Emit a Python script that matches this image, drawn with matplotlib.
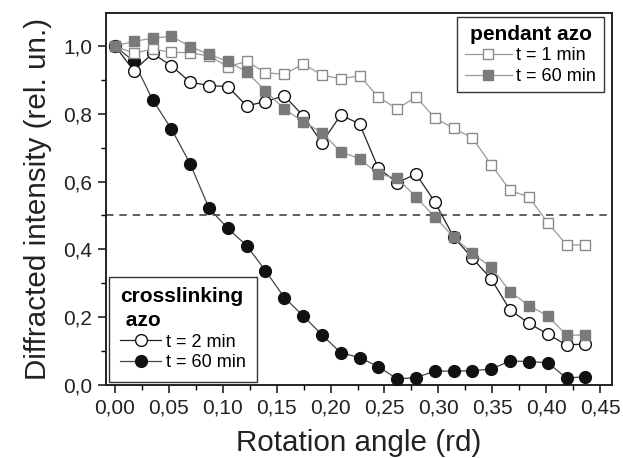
import matplotlib
matplotlib.use("Agg")
import matplotlib.pyplot as plt
from matplotlib.ticker import MultipleLocator, FuncFormatter

plt.rcParams['font.family'] = ['Liberation Sans', 'DejaVu Sans']

# rotation angle (rad), 1 degree steps
angle = [0.0000, 0.0175, 0.0349, 0.0524, 0.0698, 0.0873, 0.1047, 0.1222, 0.1396,
         0.1571, 0.1745, 0.1920, 0.2094, 0.2269, 0.2443, 0.2618, 0.2793, 0.2967,
         0.3142, 0.3316, 0.3491, 0.3665, 0.3840, 0.4014, 0.4189, 0.4363]

cross_2min = [1.000, 0.927, 0.978, 0.941, 0.893, 0.883, 0.880, 0.823, 0.836, 0.853,
              0.794, 0.715, 0.796, 0.770, 0.639, 0.597, 0.622, 0.540, 0.436, 0.374,
              0.312, 0.221, 0.182, 0.150, 0.118, 0.121]
cross_60min = [1.000, 0.954, 0.841, 0.755, 0.652, 0.521, 0.462, 0.411, 0.337, 0.258,
               0.204, 0.148, 0.095, 0.081, 0.054, 0.018, 0.022, 0.041, 0.041, 0.042,
               0.047, 0.071, 0.069, 0.066, 0.020, 0.025]
pend_1min = [1.000, 0.978, 0.991, 0.981, 0.980, 0.970, 0.939, 0.954, 0.921, 0.916,
             0.947, 0.914, 0.903, 0.912, 0.849, 0.814, 0.850, 0.787, 0.757, 0.728,
             0.649, 0.574, 0.554, 0.479, 0.413, 0.413]
pend_60min = [1.000, 1.013, 1.023, 1.028, 0.998, 0.975, 0.954, 0.924, 0.867, 0.814,
              0.777, 0.744, 0.688, 0.667, 0.622, 0.610, 0.554, 0.495, 0.436, 0.388,
              0.347, 0.275, 0.234, 0.204, 0.147, 0.147]

threshold = 0.5

fig = plt.figure(figsize=(6.23, 4.58), dpi=100)
ax = fig.add_axes([106/623, 1-385/458, (612-106)/623, (385-13)/458])

ax.axhline(threshold, color='#444444', lw=1.2, ls=(0, (4.5, 3.5)), zorder=1)

l_c60, = ax.plot(angle, cross_60min, '-o', color='#444444', lw=0.9, ms=8.5,
                 mfc='#111111', mec='#111111', zorder=3)
l_c2, = ax.plot(angle, cross_2min, '-o', color='#222222', lw=0.9, ms=8.5,
                mfc='white', mec='#111111', mew=1.0, zorder=4)
l_p1, = ax.plot(angle, pend_1min, '-s', color='#999999', lw=0.9, ms=7.3,
                mfc='white', mec='#8a8a8a', mew=1.0, zorder=5)
l_p60, = ax.plot(angle, pend_60min, '-s', color='#999999', lw=0.9, ms=7.3,
                 mfc='#7a7a7a', mec='#7a7a7a', zorder=6)

ax.set_xlim(-0.0083, 0.4610)
ax.set_ylim(0.0, 1.097)
ax.xaxis.set_major_locator(MultipleLocator(0.05))
ax.xaxis.set_minor_locator(MultipleLocator(0.025))
ax.yaxis.set_major_locator(MultipleLocator(0.2))
ax.yaxis.set_minor_locator(MultipleLocator(0.1))
ax.xaxis.set_major_formatter(FuncFormatter(lambda v, p: f"{v:.2f}".replace('.', ',')))
ax.yaxis.set_major_formatter(FuncFormatter(lambda v, p: f"{v:.1f}".replace('.', ',')))
ax.tick_params(which='major', direction='out', length=5.8, width=1.2, labelsize=15,
               colors='#222222', top=False, right=False, pad=4)
ax.tick_params(which='minor', direction='out', length=3.6, width=1.0, top=False, right=False)
for s in ax.spines.values():
    s.set_linewidth(1.4)
    s.set_color('#222222')

ax.set_xlabel('Rotation angle (rd)', fontsize=21.3, color='#222222', labelpad=8)
ax.set_ylabel('Diffracted intensity (rel. un.)', fontsize=21.3, color='#222222', labelpad=8)

common = dict(fontsize=13, title_fontproperties={'weight': 'bold', 'size': 15},
              frameon=True, fancybox=False, edgecolor='#333333', framealpha=1,
              handletextpad=0.25, labelspacing=0.2, borderaxespad=0)

leg1 = ax.legend([l_p1, l_p60], ['t = 1 min', 't = 60 min'], title='pendant azo',
                 loc='upper right', bbox_to_anchor=(0.984, 0.989),
                 handlelength=2.6, borderpad=0.42, **common)
leg1.get_frame().set_linewidth(1.0)
ax.add_artist(leg1)

leg2 = ax.legend([l_c2, l_c60], ['t = 2 min', 't = 60 min'], title='crosslinking\n azo',
                 loc='lower left', bbox_to_anchor=(0.006, 0.008),
                 handlelength=2.3, borderpad=0.6, **common)
leg2.get_frame().set_linewidth(1.0)
leg2._legend_box.align = 'left'
leg2.get_title().set_linespacing(1.3)

fig.savefig('out.png', dpi=100)
